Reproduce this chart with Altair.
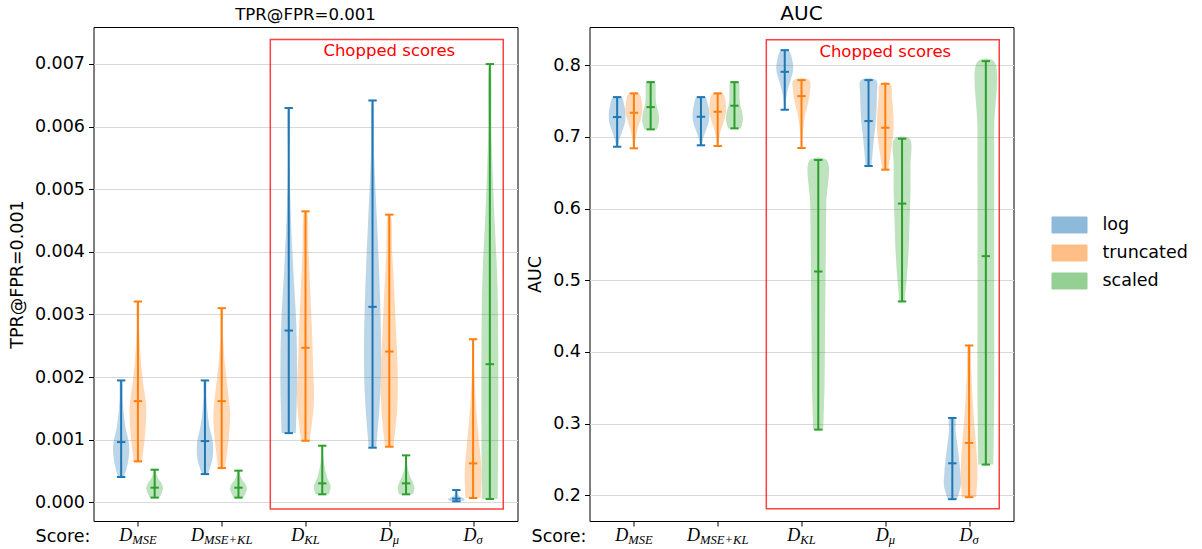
import altair as alt
import pandas as pd

# ---------------- data ----------------
series = ["log", "truncated", "scaled"]
colors = ["#1f77b4", "#ff7f0e", "#2ca02c"]
score_subs = ["MSE", "MSE+KL", "KL", "μ", "σ"]
positions = [1, 2, 3, 4, 5]
offsets = [-0.2, 0.0, 0.2]

# relative positions (0=min .. 1=max) at which the violin widths are read
shape_fracs = [0, 1 / 6, 2 / 6, 3 / 6, 4 / 6, 5 / 6, 1]

# TPR@FPR=0.001 panel  [category][series] = (log, truncated, scaled)
tpr_min = [[0.000404, 0.000654, 0.000075],
           [0.000451, 0.000547, 0.000075],
           [0.001105, 0.000983, 0.000128],
           [0.000872, 0.000888, 0.000128],
           [0.000016, 0.000069, 0.000053]]
tpr_med = [[0.000962, 0.001616, 0.000234],
           [0.000978, 0.001616, 0.000234],
           [0.002743, 0.002467, 0.000303],
           [0.003121, 0.002408, 0.000303],
           [0.000059, 0.000622, 0.002206]]
tpr_max = [[0.001946, 0.003206, 0.000521],
           [0.001946, 0.003100, 0.000506],
           [0.006295, 0.004646, 0.000904],
           [0.006416, 0.004593, 0.000750],
           [0.000196, 0.002604, 0.006997]]
tpr_shape = [
    [[0.35, 0.85, 0.95, 0.55, 0.30, 0.18, 0.10],
     [0.50, 0.85, 1.00, 0.60, 0.30, 0.15, 0.08],
     [0.55, 0.85, 1.00, 0.85, 0.45, 0.20, 0.10]],
    [[0.35, 0.90, 0.95, 0.55, 0.30, 0.18, 0.10],
     [0.40, 0.80, 1.00, 0.70, 0.35, 0.15, 0.08],
     [0.55, 0.85, 1.00, 0.85, 0.45, 0.20, 0.10]],
    [[0.85, 1.00, 0.90, 0.55, 0.25, 0.10, 0.05],
     [0.50, 1.00, 0.90, 0.75, 0.55, 0.35, 0.12],
     [0.80, 1.00, 0.60, 0.35, 0.20, 0.10, 0.05]],
    [[0.45, 0.95, 1.00, 0.80, 0.50, 0.20, 0.05],
     [0.50, 0.95, 1.00, 0.80, 0.60, 0.35, 0.12],
     [0.85, 1.00, 0.75, 0.40, 0.20, 0.10, 0.05]],
    [[0.60, 1.00, 0.70, 0.30, 0.15, 0.08, 0.05],
     [0.90, 1.00, 0.75, 0.45, 0.25, 0.12, 0.05],
     [0.95, 1.00, 1.00, 0.90, 0.50, 0.20, 0.05]],
]

# AUC panel
auc_min = [[0.6862, 0.6840, 0.7104],
           [0.6882, 0.6872, 0.7118],
           [0.7378, 0.6844, 0.2916],
           [0.6593, 0.6542, 0.4704],
           [0.1946, 0.1974, 0.2429]]
auc_med = [[0.7276, 0.7336, 0.7415],
           [0.7280, 0.7350, 0.7434],
           [0.7907, 0.7568, 0.5122],
           [0.7220, 0.7127, 0.6069],
           [0.2447, 0.2731, 0.5336]]
auc_max = [[0.7554, 0.7606, 0.7763],
           [0.7554, 0.7606, 0.7763],
           [0.8209, 0.7791, 0.6677],
           [0.7791, 0.7740, 0.6974],
           [0.3079, 0.4090, 0.8056]]
auc_shape = [
    [[0.12, 0.30, 0.65, 0.95, 1.00, 0.85, 0.50],
     [0.10, 0.20, 0.40, 0.75, 1.00, 0.95, 0.60],
     [0.75, 1.00, 0.95, 0.70, 0.60, 0.60, 0.50]],
    [[0.12, 0.30, 0.65, 0.95, 1.00, 0.85, 0.50],
     [0.10, 0.20, 0.45, 0.80, 1.00, 0.95, 0.60],
     [0.75, 1.00, 0.95, 0.70, 0.60, 0.60, 0.50]],
    [[0.08, 0.15, 0.35, 0.70, 1.00, 0.90, 0.45],
     [0.05, 0.12, 0.25, 0.45, 0.80, 1.00, 0.95],
     [0.60, 0.75, 0.80, 0.85, 0.90, 0.95, 1.00]],
    [[0.35, 0.50, 0.65, 0.85, 0.95, 1.00, 0.90],
     [0.35, 0.60, 0.85, 1.00, 0.95, 0.80, 0.60],
     [0.30, 0.60, 0.80, 0.90, 1.00, 1.00, 0.90]],
    [[0.55, 1.00, 0.95, 0.80, 0.60, 0.40, 0.30],
     [0.85, 1.00, 0.85, 0.60, 0.40, 0.25, 0.12],
     [0.90, 1.00, 1.00, 1.00, 1.00, 1.00, 0.95]],
]

tpr_ticks = [0.0, 0.001, 0.002, 0.003, 0.004, 0.005, 0.006, 0.007]
auc_ticks = [0.2, 0.3, 0.4, 0.5, 0.6, 0.7, 0.8]

# "Chopped scores" boxes (data coordinates)
tpr_box = dict(x=2.58, x2=5.36, y=-0.000107, y2=0.00739, ty=0.0072)
auc_box = dict(x=2.58, x2=5.36, y=0.1813, y2=0.8354, ty=0.8190)

# ---------------- layout ----------------
W, H = 424, 494
XDOM = [0.47, 5.53]
PX_PER_UNIT = W / (XDOM[1] - XDOM[0])
HALF = 0.1   # half violin width
CAP = 0.05   # half cap width
FONT = "DejaVu Sans"

color_scale = alt.Scale(domain=series, range=colors)


def build(mins, meds, maxs, shapes):
    body, bars, caps = [], [], []
    n = len(shape_fracs)
    for ci, pos in enumerate(positions):
        for si, s in enumerate(series):
            x0 = pos + offsets[si]
            lo, md, hi = mins[ci][si], meds[ci][si], maxs[ci][si]
            vid = f"{ci}-{si}"
            ys = [lo + f * (hi - lo) for f in shape_fracs]
            ws = shapes[ci][si]
            # closed outline: left side upwards, right side downwards
            for k in range(n):
                body.append(dict(id=vid, series=s, o=k, px=x0 - HALF * ws[k], py=ys[k]))
            for k in range(n - 1, -1, -1):
                body.append(dict(id=vid, series=s, o=2 * n - 1 - k,
                                 px=x0 + HALF * ws[k], py=ys[k]))
            bars.append(dict(series=s, x=x0, lo=lo, hi=hi))
            for v in (lo, md, hi):
                caps.append(dict(series=s, xl=x0 - CAP, xr=x0 + CAP, y=v))
    return pd.DataFrame(body), pd.DataFrame(bars), pd.DataFrame(caps)


# sub-script label geometry (approximate glyph widths, Times-like italic)
GLYPH = {"M": 0.833, "S": 0.5, "E": 0.611, "K": 0.667, "L": 0.556, "+": 0.675,
         "μ": 0.5, "σ": 0.5}
D_SIZE, SUB_SIZE = 18, 12.6
D_W = 0.722 * D_SIZE


def label_frame():
    rows = []
    for pos, sub in zip(positions, score_subs):
        sw = sum(GLYPH.get(c, 0.55) for c in sub) * SUB_SIZE
        jx = pos + (D_W - sw) / 2 / PX_PER_UNIT
        rows.append(dict(jx=jx, sub=sub, d="D"))
    return pd.DataFrame(rows)


def panel(title, title_size, title_dy, ylabel, ydom, yticks, yfmt,
          mins, meds, maxs, shapes, box, show_legend):
    body, bars, caps = build(mins, meds, maxs, shapes)
    xs = alt.Scale(domain=XDOM, nice=False, zero=False)
    ys = alt.Scale(domain=ydom, nice=False, zero=False)
    xaxis = alt.Axis(values=positions, labels=False, title=None, grid=False,
                     ticks=True, tickSize=5, domain=False)
    yaxis = alt.Axis(values=yticks, format=yfmt, title=ylabel, grid=True)
    if show_legend:
        legend = alt.Legend(title=None, orient="none", legendX=958, legendY=180,
                            symbolType="M-1,-0.457H1V0.457H-1Z", symbolSize=1225,
                            symbolOpacity=0.5, symbolStrokeWidth=1,
                            labelFontSize=17.5, labelFont=FONT, labelColor="black",
                            labelOffset=15, rowPadding=0, padding=0)
    else:
        legend = None

    legend_layer = alt.Chart(bars).mark_rect(opacity=0).encode(
        x=alt.X("x:Q", scale=xs, axis=xaxis),
        y=alt.Y("lo:Q", scale=ys, axis=yaxis),
        y2="hi:Q",
        color=alt.Color("series:N", scale=color_scale, legend=legend),
    )
    body_layer = alt.Chart(body).mark_line(filled=True, opacity=0.3,
                                           interpolate="catmull-rom").encode(
        x=alt.X("px:Q", scale=xs, axis=xaxis),
        y=alt.Y("py:Q", scale=ys, axis=yaxis),
        detail="id:N",
        order="o:Q",
        color=alt.Color("series:N", scale=color_scale, legend=None),
    )
    vbar = alt.Chart(bars).mark_rule(strokeWidth=2).encode(
        x=alt.X("x:Q", scale=xs, axis=xaxis),
        y=alt.Y("lo:Q", scale=ys, axis=yaxis),
        y2="hi:Q",
        color=alt.Color("series:N", scale=color_scale, legend=None),
    )
    cap = alt.Chart(caps).mark_rule(strokeWidth=2).encode(
        x=alt.X("xl:Q", scale=xs, axis=xaxis),
        x2="xr:Q",
        y=alt.Y("y:Q", scale=ys, axis=yaxis),
        color=alt.Color("series:N", scale=color_scale, legend=None),
    )
    boxdf = pd.DataFrame([dict(x=box["x"], x2=box["x2"], y=box["y"], y2=box["y2"],
                               tx=4.0, ty=box["ty"], t="Chopped scores")])
    rect = alt.Chart(boxdf).mark_rect(filled=False, stroke="red", strokeWidth=1.5,
                                      strokeOpacity=0.75).encode(
        x=alt.X("x:Q", scale=xs, axis=xaxis), x2="x2:Q",
        y=alt.Y("y:Q", scale=ys, axis=yaxis), y2="y2:Q")
    rtext = alt.Chart(boxdf).mark_text(color="red", fontSize=16.5, font=FONT,
                                       baseline="middle", align="center").encode(
        x=alt.X("tx:Q", scale=xs, axis=xaxis),
        y=alt.Y("ty:Q", scale=ys, axis=yaxis),
        text="t:N")
    labs = label_frame()
    dtext = alt.Chart(labs).mark_text(font="Liberation Serif", fontStyle="italic",
                                      fontSize=D_SIZE, align="right",
                                      baseline="alphabetic").encode(
        x=alt.X("jx:Q", scale=xs, axis=xaxis), y=alt.value(H + 20), text="d:N")
    stext = alt.Chart(labs).mark_text(font="Liberation Serif", fontStyle="italic",
                                      fontSize=SUB_SIZE, align="left",
                                      baseline="alphabetic").encode(
        x=alt.X("jx:Q", scale=xs, axis=xaxis), y=alt.value(H + 23), text="sub:N")
    score = alt.Chart(pd.DataFrame({"t": ["Score:"]})).mark_text(
        font=FONT, fontSize=17.5, align="right", baseline="alphabetic").encode(
        x=alt.value(-3), y=alt.value(H + 21), text="t:N")

    return alt.layer(legend_layer, body_layer, vbar, cap, rect, rtext,
                     dtext, stext, score).properties(
        width=W, height=H,
        title=alt.TitleParams(title, fontSize=title_size, font=FONT, fontWeight="normal",
                              color="black", baseline="alphabetic", offset=6.5,
                              dy=title_dy, anchor="middle"),
    )


left = panel("TPR@FPR=0.001", 16.6, 16.5, "TPR@FPR=0.001", [-0.000298, 0.007589],
             tpr_ticks, ".3f", tpr_min, tpr_med, tpr_max, tpr_shape, tpr_box, True)
right = panel("AUC", 20, 19.5, "AUC", [0.1642, 0.8532], auc_ticks, ".1f",
              auc_min, auc_med, auc_max, auc_shape, auc_box, False)

chart = alt.hconcat(left, right, spacing=72, bounds="flush").properties(
    padding={"left": 7.5, "top": 3, "right": 0, "bottom": 0},
    background="white",
).configure_view(stroke="black", strokeWidth=1).configure_axis(
    labelFont=FONT, labelFontSize=17.5, labelColor="black",
    titleFont=FONT, titleFontSize=17.5, titleFontWeight="normal", titleColor="black",
    tickColor="black", tickSize=5, tickWidth=1, labelPadding=4, titlePadding=8,
    gridColor="#d9d9d9", gridWidth=1, domain=False,
)

chart.save("out.html", embed_options={"renderer": "svg", "actions": False})
